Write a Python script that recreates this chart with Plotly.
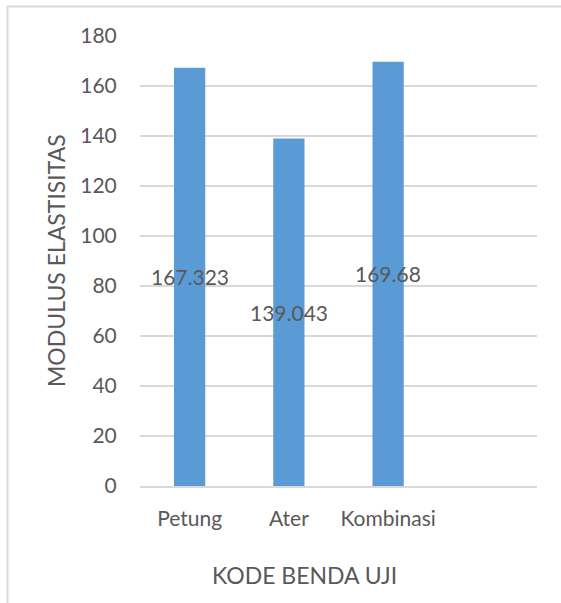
import plotly.graph_objects as go

categories = ["Petung", "Ater", "Kombinasi"]
values = [167.323, 139.043, 169.68]
y_ticks = [0, 20, 40, 60, 80, 100, 120, 140, 160, 180]
x_title = "KODE BENDA UJI"
y_title = "MODULUS ELASTISITAS"

W, H = 561, 603
L, R, T, B = 140, 24, 36, 117
pw, ph = W - L - R, H - T - B

def px_x(p):
    return (p - L) / pw

def px_y(p):
    return (H - B - p) / ph

FONT = "Lato, Open Sans, sans-serif"
TXT = "#595959"

fig = go.Figure(go.Bar(x=categories, y=values, marker=dict(color="#5b9bd5", line=dict(width=0)),
                       hoverinfo="skip"))

annotations = []
for c, v in zip(categories, values):
    annotations.append(dict(x=c, y=v / 2, xref="x", yref="y", text=str(v), showarrow=False,
                            font=dict(family=FONT, size=21, color=TXT), xanchor="center", yanchor="middle"))
annotations.append(dict(x=px_x(304), y=px_y(575), xref="paper", yref="paper", text=x_title, showarrow=False,
                        font=dict(family=FONT, size=23, color=TXT), xanchor="center", yanchor="middle"))
annotations.append(dict(x=px_x(56), y=px_y(261), xref="paper", yref="paper", text=y_title, showarrow=False,
                        textangle=-90, font=dict(family=FONT, size=23, color=TXT), xanchor="center", yanchor="middle"))

shapes = [
    dict(type="line", xref="paper", yref="paper", x0=px_x(7), x1=px_x(W + 5), y0=px_y(6.5), y1=px_y(6.5),
         line=dict(color="#d9d9d9", width=2)),
    dict(type="line", xref="paper", yref="paper", x0=px_x(7.5), x1=px_x(7.5), y0=px_y(6), y1=px_y(H + 5),
         line=dict(color="#d9d9d9", width=2)),
]

fig.update_layout(
    width=W, height=H,
    margin=dict(l=L, r=R, t=T, b=B),
    paper_bgcolor="white", plot_bgcolor="white",
    showlegend=False,
    bargap=0.685,
    font=dict(family=FONT, color=TXT),
    annotations=annotations,
    shapes=shapes,
)
fig.update_xaxes(type="category", range=[-0.5, 3.5], showline=True, linecolor="#d9d9d9", linewidth=2,
                 showgrid=False, ticks="outside", ticklen=13, tickcolor="rgba(0,0,0,0)",
                 tickfont=dict(family=FONT, size=21, color=TXT))
fig.update_yaxes(range=[0, 180], tickvals=y_ticks, showgrid=True, gridcolor="#d9d9d9", gridwidth=1.5,
                 zeroline=False, showline=False, ticks="outside", ticklen=18, tickcolor="rgba(0,0,0,0)",
                 tickfont=dict(family=FONT, size=21, color=TXT))

fig.write_html("out.html")
